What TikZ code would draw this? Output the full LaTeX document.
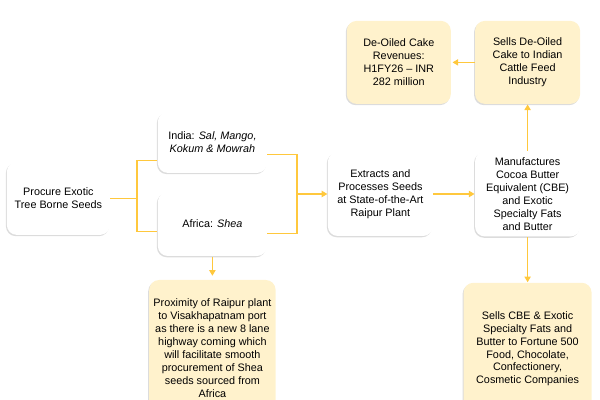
\documentclass[tikz,border=0pt]{standalone}
\usepackage{fontspec}
\setmainfont{Liberation Sans}
\usetikzlibrary{arrows.meta, positioning, calc, shadows}
\definecolor{cyellow}{HTML}{FFC83D}
\definecolor{ccream}{HTML}{FFF2CC}
\definecolor{cshade}{HTML}{9A9A9A}
\tikzset{
  every picture/.style={font=\fontsize{7.7}{9.2}\selectfont, line width=0.8pt},
  box/.style={fill=#1, rounded corners=7pt, align=center, inner sep=3pt,
    drop shadow={shadow xshift=-0.7pt, shadow yshift=-0.9pt, fill=cshade, opacity=0.35}},
  box/.default=white,
  link/.style={draw=cyellow},
  arrow/.style={-{Triangle[length=4pt, width=4.5pt]}, draw=cyellow},
}
\begin{document}
\begin{tikzpicture}
  \useasboundingbox (0,0) rectangle (15,10);
  \begin{scope}
  \clip (0,0) rectangle (15,10);
  \node[box, minimum width=2.575cm, minimum height=1.825cm] (proc) at (1.46,5.04) {Procure Exotic\\Tree Borne Seeds};
  \node[box, minimum width=2.725cm, minimum height=1.525cm] (india) at (5.31,6.44) {India: \textit{Sal, Mango,}\\\textit{Kokum \& Mowrah}};
  \node[box, minimum width=2.725cm, minimum height=1.6cm] (africa) at (5.31,4.4) {Africa: \textit{Shea}};
  \node[box, minimum width=2.625cm, minimum height=2.1cm] (extr) at (9.51,5.15) {Extracts and\\Processes Seeds\\at State-of-the-Art\\Raipur Plant};
  \node[box, minimum width=2.625cm, minimum height=2.125cm] (manu) at (13.19,5.15) {Manufactures\\Cocoa Butter\\Equivalent (CBE)\\and Exotic\\Specialty Fats\\and Butter};
  \node[box=ccream, minimum width=2.625cm, minimum height=2.075cm] (sell) at (13.19,8.44) {Sells De-Oiled\\Cake to Indian\\Cattle Feed\\Industry};
  \node[box=ccream, minimum width=2.6cm, minimum height=2.075cm] (rev) at (9.97,8.44) {De-Oiled Cake\\Revenues:\\H1FY26 -- INR\\282 million};
  \node[box=ccream, minimum width=3.2cm, minimum height=3.3cm] (cbe) at (13.19,1.28) {Sells CBE \& Exotic\\Specialty Fats and\\Butter to Fortune 500\\Food, Chocolate,\\Confectionery,\\Cosmetic Companies};
  \node[box=ccream, minimum width=3.15cm, minimum height=3.4cm] (prox) at (5.31,1.3) {Proximity of Raipur plant\\to Visakhapatnam port\\as there is a new 8 lane\\highway coming which\\will facilitate smooth\\procurement of Shea\\seeds sourced from\\Africa};
  \end{scope}
  % joints of the two seed sources
  \coordinate (split) at (3.425,5.04);
  \coordinate (merge) at (7.425,5.15);
  \coordinate (indIn) at ($(india.south west)!0.21!(india.north west)$);
  \coordinate (afrIn) at ($(africa.south west)!0.39!(africa.north west)$);
  \coordinate (indOut) at ($(india.south east)!0.3!(india.north east)$);
  \coordinate (afrOut) at ($(africa.south east)!0.36!(africa.north east)$);
  \draw[link] (proc.east) -- (split);
  \draw[link] (split) |- (indIn);
  \draw[link] (split) |- (afrIn);
  \draw[link] (indOut) -| (merge);
  \draw[link] (afrOut) -| (merge);
  \draw[arrow] (merge) -- (merge -| extr.west);
  \draw[arrow] (extr.east) -- (manu.west);
  \draw[arrow] (manu.north) -- (sell.south);
  \draw[arrow] (sell.west) -- ++(-0.55,0);
  \draw[arrow] (manu.south) -- (cbe.north);
  \draw[arrow] (africa.south) -- ++(0,-0.48);
\end{tikzpicture}
\end{document}
